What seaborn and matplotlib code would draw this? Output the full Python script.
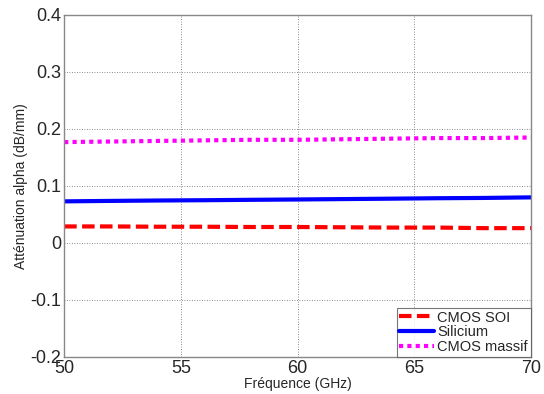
import matplotlib
matplotlib.use("Agg")
import matplotlib.pyplot as plt
import seaborn as sns
import pandas as pd
import numpy as np

freq = [50, 52, 54, 56, 58, 60, 62, 64, 66, 68, 70]
cmos_soi = [0.029, 0.029, 0.0285, 0.0285, 0.028, 0.028, 0.0275, 0.027, 0.027, 0.026, 0.026]
silicium = [0.073, 0.0738, 0.0745, 0.075, 0.0757, 0.0763, 0.077, 0.0777, 0.0785, 0.079, 0.080]
cmos_massif = [0.177, 0.178, 0.179, 0.180, 0.181, 0.181, 0.182, 0.183, 0.184, 0.184, 0.185]
labels = ["CMOS SOI", "Silicium", "CMOS massif"]

sns.set_style("white")
plt.rcParams['font.family'] = ['Liberation Sans', 'DejaVu Sans']

fig = plt.figure(figsize=(5.44, 3.94), dpi=100)
ax = fig.add_axes([0.118, 0.094, 0.858, 0.868])

df = pd.DataFrame({"f": freq * 3,
                   "v": cmos_soi + silicium + cmos_massif,
                   "s": [labels[0]] * len(freq) + [labels[1]] * len(freq) + [labels[2]] * len(freq)})
palette = {labels[0]: "#ff0000", labels[1]: "#0000ff", labels[2]: "#ff00ff"}
sns.lineplot(data=df, x="f", y="v", hue="s", palette=palette, ax=ax, linewidth=3, legend=False)
styles = [(0, (3, 1.3)), "-", (0, (1, 1))]
for line, st in zip(ax.get_lines(), styles):
    line.set_linestyle(st)

ax.set_xlim(50, 70)
ax.set_ylim(-0.2, 0.4)
ax.set_xticks([50, 55, 60, 65, 70])
ax.set_yticks([-0.2, -0.1, 0, 0.1, 0.2, 0.3, 0.4])
ax.set_yticklabels(["-0.2", "-0.1", "0", "0.1", "0.2", "0.3", "0.4"])
ax.tick_params(labelsize=13, length=3, direction="in", pad=2)
ax.grid(True, linestyle=(0, (1, 2)), color="#666666", linewidth=0.6)
for sp in ax.spines.values():
    sp.set_color("#888888")
    sp.set_linewidth(1)
ax.set_xlabel("Fréquence (GHz)", fontsize=10, labelpad=0)
ax.set_ylabel("Atténuation alpha (dB/mm)", fontsize=10, labelpad=2)

leg = ax.legend(ax.get_lines(), labels, loc="lower right", fontsize=10.5, frameon=True,
                fancybox=False, borderaxespad=0, handlelength=2.4, handletextpad=0.2,
                labelspacing=0.05, borderpad=0.2)
leg.get_frame().set_edgecolor("#555555")
leg.get_frame().set_linewidth(0.8)

fig.savefig("out.png", dpi=100)
